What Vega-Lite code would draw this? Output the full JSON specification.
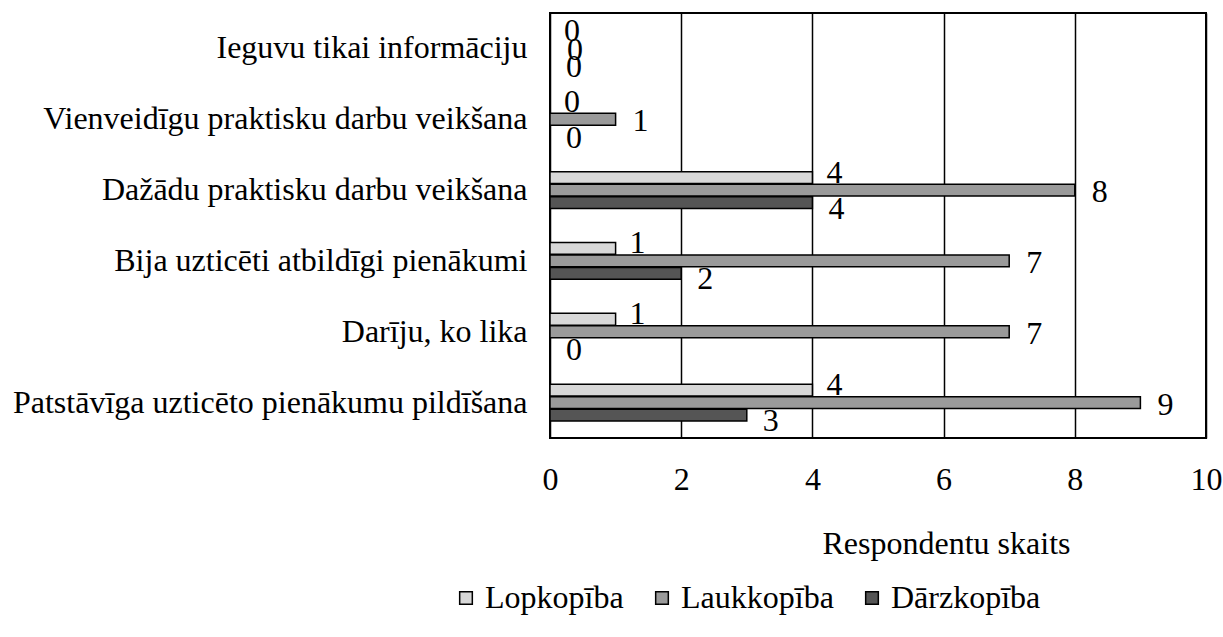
{
  "$schema": "https://vega.github.io/schema/vega-lite/v6.json",
  "width": 656,
  "height": 425,
  "autosize": {"type": "none"},
  "padding": {"left": 550, "top": 13, "right": 17, "bottom": 199},
  "background": "white",
  "config": {
    "font": "Liberation Serif",
    "view": {"stroke": "black", "strokeWidth": 2},
    "axis": {"labelColor": "black", "titleColor": "black", "labelFont": "Liberation Serif", "titleFont": "Liberation Serif"},
    "legend": {"labelFont": "Liberation Serif", "labelColor": "black"},
    "text": {"font": "Liberation Serif"}
  },
  "data": {
    "values": [
      {"kategorija": "Ieguvu tikai informāciju", "nozare": "Lopkopība", "skaits": 0},
      {"kategorija": "Ieguvu tikai informāciju", "nozare": "Laukkopība", "skaits": 0},
      {"kategorija": "Ieguvu tikai informāciju", "nozare": "Dārzkopība", "skaits": 0},
      {"kategorija": "Vienveidīgu praktisku darbu veikšana", "nozare": "Lopkopība", "skaits": 0},
      {"kategorija": "Vienveidīgu praktisku darbu veikšana", "nozare": "Laukkopība", "skaits": 1},
      {"kategorija": "Vienveidīgu praktisku darbu veikšana", "nozare": "Dārzkopība", "skaits": 0},
      {"kategorija": "Dažādu praktisku darbu veikšana", "nozare": "Lopkopība", "skaits": 4},
      {"kategorija": "Dažādu praktisku darbu veikšana", "nozare": "Laukkopība", "skaits": 8},
      {"kategorija": "Dažādu praktisku darbu veikšana", "nozare": "Dārzkopība", "skaits": 4},
      {"kategorija": "Bija uzticēti atbildīgi  pienākumi", "nozare": "Lopkopība", "skaits": 1},
      {"kategorija": "Bija uzticēti atbildīgi  pienākumi", "nozare": "Laukkopība", "skaits": 7},
      {"kategorija": "Bija uzticēti atbildīgi  pienākumi", "nozare": "Dārzkopība", "skaits": 2},
      {"kategorija": "Darīju, ko lika", "nozare": "Lopkopība", "skaits": 1},
      {"kategorija": "Darīju, ko lika", "nozare": "Laukkopība", "skaits": 7},
      {"kategorija": "Darīju, ko lika", "nozare": "Dārzkopība", "skaits": 0},
      {"kategorija": "Patstāvīga uzticēto pienākumu pildīšana", "nozare": "Lopkopība", "skaits": 4},
      {"kategorija": "Patstāvīga uzticēto pienākumu pildīšana", "nozare": "Laukkopība", "skaits": 9},
      {"kategorija": "Patstāvīga uzticēto pienākumu pildīšana", "nozare": "Dārzkopība", "skaits": 3}
    ]
  },
  "encoding": {
    "y": {
      "field": "kategorija",
      "type": "nominal",
      "sort": ["Ieguvu tikai informāciju", "Vienveidīgu praktisku darbu veikšana", "Dažādu praktisku darbu veikšana", "Bija uzticēti atbildīgi  pienākumi", "Darīju, ko lika", "Patstāvīga uzticēto pienākumu pildīšana"],
      "scale": {"paddingInner": 0.48, "paddingOuter": 0.24},
      "axis": {"title": null, "labelFontSize": 32, "ticks": false, "domain": false, "labelPadding": 23, "labelLimit": 0}
    },
    "yOffset": {
      "field": "nozare",
      "type": "nominal",
      "sort": ["Lopkopība", "Laukkopība", "Dārzkopība"],
      "scale": {"domain": ["Lopkopība", "Laukkopība", "Dārzkopība"], "paddingInner": 0.05}
    },
    "x": {
      "field": "skaits",
      "type": "quantitative",
      "scale": {"domain": [0, 10], "nice": false},
      "axis": {
        "values": [0, 2, 4, 6, 8, 10],
        "grid": true,
        "gridColor": "black",
        "gridWidth": 1.5,
        "gridOpacity": 1,
        "ticks": false,
        "domain": false,
        "labelFontSize": 32,
        "labelPadding": 26,
        "labelFlush": false,
        "title": "Respondentu skaits",
        "titleFontSize": 32,
        "titleFontWeight": "normal",
        "titleX": 396,
        "titleY": 105,
        "titleAlign": "center",
        "titleBaseline": "middle"
      }
    }
  },
  "layer": [
    {
      "mark": {"type": "bar", "stroke": "black", "strokeWidth": 1.5},
      "encoding": {
        "color": {
          "field": "nozare",
          "type": "nominal",
          "sort": ["Lopkopība", "Laukkopība", "Dārzkopība"],
          "scale": {
            "domain": ["Lopkopība", "Laukkopība", "Dārzkopība"],
            "range": ["#d8d8d8", "#9a9a9a", "#555555"]
          },
          "legend": {
            "title": null,
            "orient": "none",
            "direction": "horizontal",
            "legendX": -100,
            "legendY": 569,
            "symbolType": "square",
            "symbolSize": 160,
            "symbolStrokeColor": "black",
            "symbolStrokeWidth": 1.5,
            "symbolOpacity": 1,
            "labelFontSize": 32,
            "labelOffset": 3,
            "columnPadding": 22
          }
        }
      }
    },
    {
      "transform": [{"filter": "datum.nozare === 'Lopkopība'"}],
      "mark": {"type": "text", "align": "center", "baseline": "middle", "dx": 22, "dy": -5, "fontSize": 32, "color": "black"},
      "encoding": {"text": {"field": "skaits", "type": "quantitative"}}
    },
    {
      "transform": [{"filter": "datum.nozare === 'Laukkopība'"}],
      "mark": {"type": "text", "align": "center", "baseline": "middle", "dx": 25, "dy": 2, "fontSize": 32, "color": "black"},
      "encoding": {"text": {"field": "skaits", "type": "quantitative"}}
    },
    {
      "transform": [{"filter": "datum.nozare === 'Dārzkopība'"}],
      "mark": {"type": "text", "align": "center", "baseline": "middle", "dx": 24, "dy": 6, "fontSize": 32, "color": "black"},
      "encoding": {"text": {"field": "skaits", "type": "quantitative"}}
    }
  ]
}
